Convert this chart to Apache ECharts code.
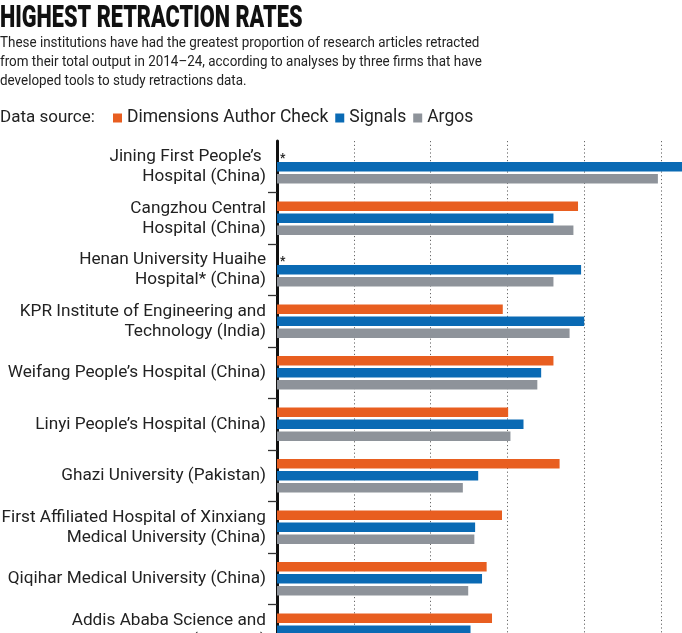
<!DOCTYPE html>
<html>
<head>
<meta charset="utf-8">
<script src="https://cdn.jsdelivr.net/npm/echarts@6/dist/echarts.min.js"></script>
<style>
html,body{margin:0;padding:0;background:#fff;}
#chart{width:682px;height:633px;}
</style>
</head>
<body>
<div id="chart"></div>
<script>
const titleText = 'HIGHEST RETRACTION RATES';
const subtitleLines = [
  'These institutions have had the greatest proportion of research articles retracted',
  'from their total output in 2014\u201324, according to analyses by three firms that have',
  'developed tools to study retractions data.'
];
const legendPrefix = 'Data source:';
const seriesNames = ['Dimensions Author Check', 'Signals', 'Argos'];
const seriesColors = ['#E85E20', '#0A6AB4', '#8E939A'];

const categories = [
  'Jining First People\u2019s \nHospital (China)',
  'Cangzhou Central\nHospital (China)',
  'Henan University Huaihe\nHospital* (China)',
  'KPR Institute of Engineering and\nTechnology (India)',
  'Weifang People\u2019s Hospital (China)',
  'Linyi People\u2019s Hospital (China)',
  'Ghazi University (Pakistan)',
  'First Affiliated Hospital of Xinxiang\nMedical University (China)',
  'Qiqihar Medical University (China)',
  'Addis Ababa Science and\nTechnology University (Ethiopia)'
];
// retraction rate, % of output
const dimensions = [null, 3.92, null, 2.94, 3.60, 3.01, 3.68, 2.93, 2.73, 2.80];
const signals    = [5.5, 3.60, 3.96, 4.00, 3.44, 3.21, 2.62, 2.58, 2.67, 2.52];
const argos      = [4.96, 3.86, 3.60, 3.81, 3.39, 3.04, 2.42, 2.57, 2.49, null];
// institutions not covered by Dimensions (marked with *)
const starred = [true, false, true, false, false, false, false, false, false, false];

const xTicks = [0, 1, 2, 3, 4, 5];

const chart = echarts.init(document.getElementById('chart'), null, {renderer: 'canvas'});

const FONT = 'Roboto';

function barSeries(name, values, color, withStars) {
  return {
    name: name,
    type: 'bar',
    barWidth: 9.5,
    barGap: '26%',
    barCategoryGap: '35%',
    itemStyle: {color: color},
    emphasis: {disabled: true},
    data: values.map((v, i) => {
      if (withStars && starred[i]) {
        return {
          value: v,
          label: {
            show: true, formatter: '*', position: [3, -9],
            color: '#222', fontSize: 12, fontWeight: 'bold', fontFamily: FONT
          }
        };
      }
      return v;
    })
  };
}

const option = {
  backgroundColor: '#fff',
  animation: false,
  graphic: [
    {
      type: 'text', left: 0, top: 4, scaleX: 0.70,
      style: {text: titleText, fontFamily: FONT, fontWeight: 900, fontSize: 31, fill: '#111'}
    },
    {
      type: 'text', left: 0, top: 34, scaleX: 0.895,
      style: {text: subtitleLines.join('\n'), fontFamily: FONT, fontSize: 15, lineHeight: 19, fill: '#222'}
    },
    {
      type: 'text', left: 0, top: 109,
      style: {text: legendPrefix, fontFamily: FONT, fontSize: 17, fill: '#222'}
    }
  ],
  legend: {
    left: 113, top: 109, padding: 0,
    icon: 'rect', itemWidth: 9, itemHeight: 9, itemGap: 7,
    textStyle: {fontFamily: FONT, fontSize: 17.5, color: '#222'},
    selectedMode: false,
    data: seriesNames
  },
  grid: {left: 277, top: 141, width: 407, height: 515, containLabel: false, outerBoundsMode: 'none'},
  xAxis: {
    type: 'value', min: 0, max: 5.3, interval: 1,
    axisLine: {show: false}, axisTick: {show: false}, axisLabel: {show: false},
    splitLine: {show: true, lineStyle: {color: '#666', width: 1, type: [1.2, 2.6]}}
  },
  yAxis: {
    type: 'category', inverse: true, data: categories,
    axisLine: {show: true, lineStyle: {color: '#111', width: 3}},
    axisTick: {show: true, length: 9, lineStyle: {color: '#333', width: 1.3},
      interval: function (index) { return index !== 0; }},
    axisLabel: {fontFamily: FONT, fontSize: 17.2, lineHeight: 20, color: '#222', margin: 11, align: 'right'}
  },
  series: [
    barSeries(seriesNames[0], dimensions, seriesColors[0], false),
    barSeries(seriesNames[1], signals, seriesColors[1], true),
    barSeries(seriesNames[2], argos, seriesColors[2], false)
  ]
};
chart.setOption(option);
</script>
</body>
</html>
